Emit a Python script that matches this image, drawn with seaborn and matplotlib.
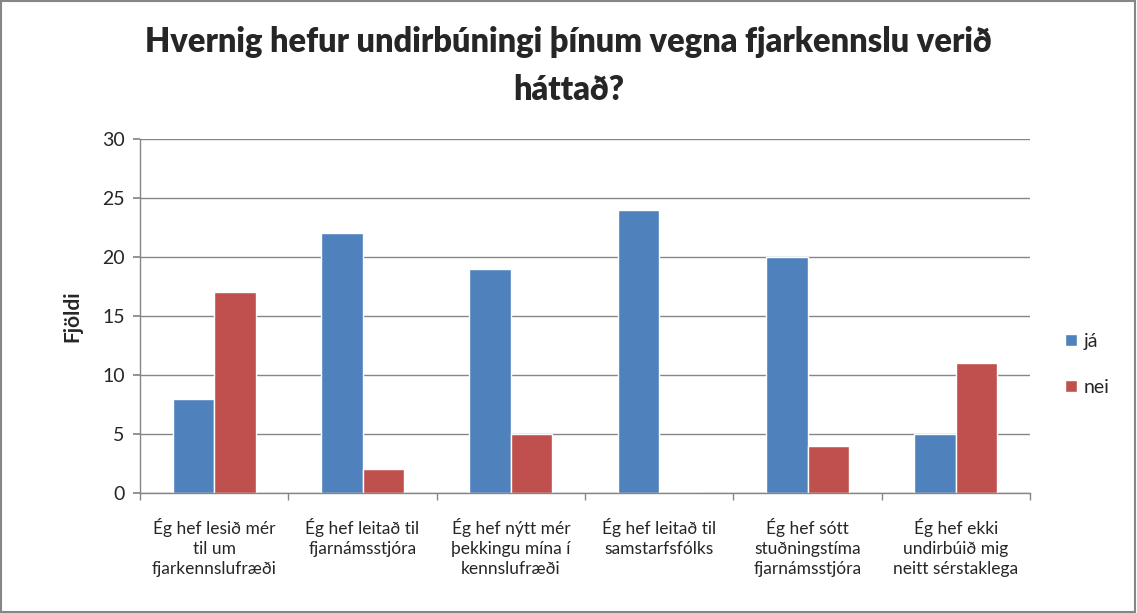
import matplotlib
matplotlib.use("Agg")
import matplotlib.pyplot as plt
import seaborn as sns
import pandas as pd
import numpy as np
from matplotlib.patches import Rectangle

categories = [
    "Ég hef lesið mér\ntil um\nfjarkennslufræði",
    "Ég hef leitað til\nfjarnámsstjóra",
    "Ég hef nýtt mér\nþekkingu mína í\nkennslufræði",
    "Ég hef leitað til\nsamstarfsfólks",
    "Ég hef sótt\nstuðningstíma\nfjarnámsstjóra",
    "Ég hef ekki\nundirbúið mig\nneitt sérstaklega",
]
ja = [8, 22, 19, 24, 20, 5]
nei = [17, 2, 5, 0, 4, 11]
series_names = ["já", "nei"]
title = "Hvernig hefur undirbúningi þínum vegna fjarkennslu verið\nháttað?"
ylabel = "Fjöldi"
yticks = [0, 5, 10, 15, 20, 25, 30]

df = pd.DataFrame({
    "cat": categories * 2,
    "val": ja + nei,
    "series": [series_names[0]] * len(ja) + [series_names[1]] * len(nei),
})

sns.set_theme(style="white")
plt.rcParams["font.family"] = ["Lato", "DejaVu Sans"]

fig = plt.figure(figsize=(11.37, 6.13), dpi=100)
ax = fig.add_axes([0.1231, 0.1958, 0.7829, 0.5774])

sns.barplot(data=df, x="cat", y="val", hue="series", order=categories,
            hue_order=series_names, palette=["#4F81BD", "#C0504D"],
            width=0.56, saturation=1, ax=ax, errorbar=None, legend=True)

ax.set_ylim(0, 30)
ax.set_xlim(-0.5, len(categories) - 0.5)
ax.set_yticks(yticks)
ax.set_yticklabels([str(t) for t in yticks], fontsize=14)
ax.yaxis.grid(True, color="#868686", linewidth=1)
ax.set_axisbelow(True)
for s in ["top", "right"]:
    ax.spines[s].set_visible(False)
for s in ["left", "bottom"]:
    ax.spines[s].set_color("#868686")
    ax.spines[s].set_linewidth(1)
ax.set_xticks(range(len(categories)))
ax.set_xticklabels(categories, fontsize=12.5, linespacing=1.3)
ax.tick_params(axis="x", which="major", length=0, pad=18)
ax.set_xticks(np.arange(-0.5, len(categories) + 0.5, 1), minor=True)
ax.tick_params(axis="x", which="minor", length=5, color="#868686", direction="out", bottom=True)
ax.tick_params(axis="y", length=5, color="#868686", direction="out", left=True, pad=6)
ax.set_xlabel("")
ax.set_ylabel(ylabel, fontsize=15, fontweight="bold", labelpad=14)

fig.suptitle(title, fontsize=23.5, fontweight="heavy", y=0.958, linespacing=1.62)

leg = ax.legend(loc="center left", bbox_to_anchor=(1.02, 0.363), frameon=False,
                fontsize=14, handlelength=0.6, handleheight=0.6, handletextpad=0.35,
                labelspacing=1.5)

fig.patches.append(Rectangle((0.001, 0.001), 0.997, 0.997, transform=fig.transFigure,
                             fill=False, edgecolor="#868686", linewidth=1.5))

fig.savefig("out.png", dpi=100)
